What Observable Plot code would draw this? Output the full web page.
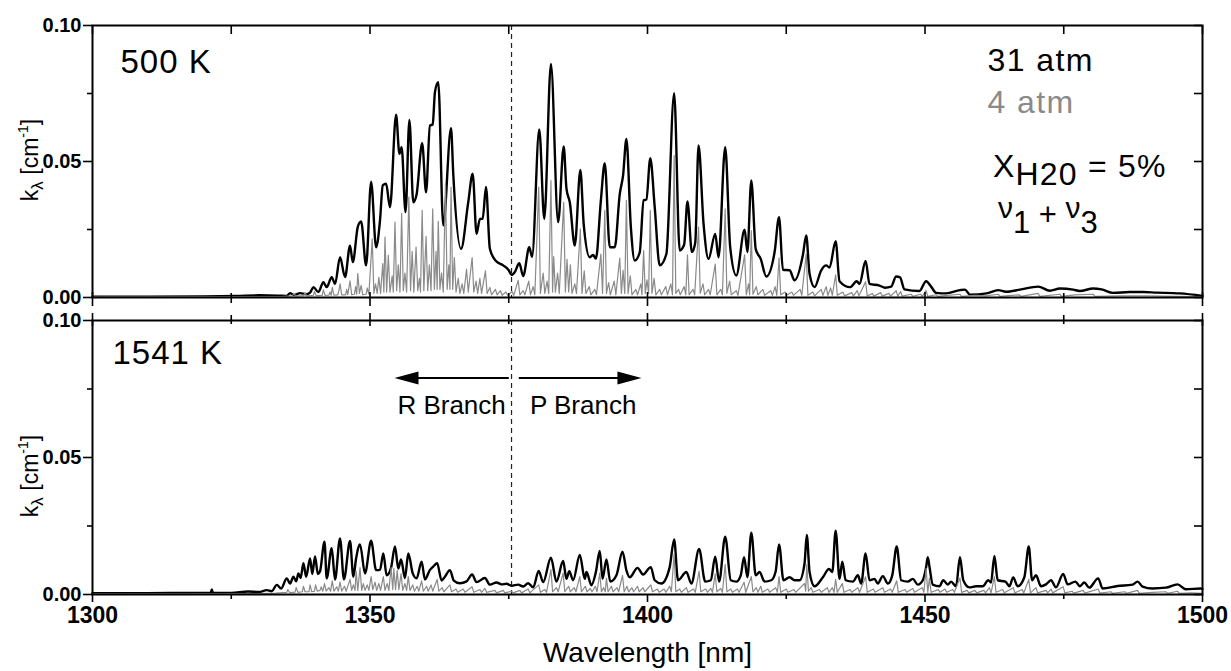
<!DOCTYPE html>
<html><head><meta charset="utf-8">
<script src="https://cdn.jsdelivr.net/npm/d3@7"></script>
<script src="https://cdn.jsdelivr.net/npm/@observablehq/plot@0.6"></script>
<style>
body{margin:0;background:#fff;font-family:"Liberation Sans",Arial,sans-serif;}
#chart{position:relative;width:1231px;height:671px;overflow:hidden;}
#chart svg{position:absolute;left:0;overflow:visible;}
</style></head><body><div id="chart"></div>
<script>
// ---------------- DATA ----------------
const xMajor = [1300, 1350, 1400, 1450, 1500];
const xMinor = [1325, 1375, 1425, 1475];
const yMajor = [0, 0.05, 0.10];
const yMinor = [0.025, 0.075];
const branchCenter = [1375.5];
const panelTemps = ["500 K", "1541 K"];
const pressures = ["31 atm", "4 atm"];
const branchLabels = [{label: "R Branch", nm: 1364.7}, {label: "P Branch", nm: 1388.4}];
const branchArrows = [{from: 1375.1, to: 1354.5}, {from: 1376.9, to: 1399.0}];

// 500 K, 31 atm (black)
const k500_31 = [[1300,0.0003],[1310,0.0003],[1320,0.0004],[1326,0.0006],[1330,0.0008],[1333.5,0.0007],[1335,0.0006],[1335.6,0.0016],[1336.3,0.0009],[1337.4,0.0016],[1338.5,0.0012],[1339.2,0.0018],[1339.8,0.0038],[1340.7,0.002],[1341.6,0.0056],[1342.2,0.0038],[1343.1,0.0075],[1343.7,0.005],[1344.6,0.0148],[1345.5,0.0075],[1346.4,0.019],[1346.9,0.013],[1347.8,0.026],[1348.4,0.028],[1349.3,0.0118],[1350.2,0.0426],[1351.1,0.0185],[1351.8,0.0283],[1352.3,0.0412],[1352.9,0.0418],[1353.6,0.0332],[1354.7,0.0672],[1355.3,0.0528],[1355.7,0.0553],[1356.4,0.0314],[1357.1,0.0653],[1357.8,0.035],[1358.4,0.038],[1359.4,0.0567],[1360.1,0.0387],[1360.8,0.0632],[1361.3,0.0636],[1361.7,0.0755],[1362.3,0.0792],[1363.2,0.0265],[1364.6,0.0622],[1365.0,0.0455],[1366.4,0.0179],[1367.7,0.035],[1368.5,0.0455],[1369.2,0.0234],[1369.8,0.0289],[1370.3,0.0289],[1370.9,0.0406],[1371.6,0.0179],[1372.7,0.0134],[1374.0,0.0118],[1375.0,0.0100],[1375.5,0.0083],[1376.1,0.0094],[1376.9,0.0126],[1377.6,0.0079],[1378.7,0.0185],[1379.2,0.015],[1380.5,0.0618],[1381.4,0.0289],[1382.6,0.0859],[1383.9,0.0277],[1384.9,0.0555],[1385.4,0.040],[1386.0,0.035],[1386.9,0.0191],[1387.9,0.0469],[1388.5,0.0271],[1389.6,0.0148],[1390.2,0.0156],[1390.7,0.0143],[1391.6,0.0357],[1392.3,0.0494],[1393.2,0.0185],[1394.1,0.0185],[1395.0,0.038],[1395.6,0.0449],[1396.2,0.0583],[1397.0,0.0259],[1397.7,0.0136],[1398.6,0.0166],[1399.3,0.0357],[1399.8,0.036],[1400.5,0.0512],[1401.3,0.0332],[1402.2,0.0118],[1403.4,0.016],[1404.8,0.0751],[1405.8,0.0173],[1406.6,0.0194],[1407.2,0.0353],[1408.0,0.0167],[1408.6,0.0201],[1409.2,0.0559],[1410.1,0.0271],[1411.0,0.0142],[1412.2,0.0234],[1412.8,0.0148],[1414.0,0.0553],[1414.9,0.0185],[1416.0,0.0081],[1417.5,0.0249],[1418.0,0.0167],[1418.7,0.043],[1419.5,0.0178],[1420.4,0.0142],[1421.4,0.0077],[1422.9,0.0167],[1423.7,0.0295],[1424.4,0.0102],[1425.6,0.0100],[1426.5,0.0063],[1428.0,0.0156],[1428.6,0.0228],[1429.2,0.0087],[1430.1,0.0038],[1431.3,0.0100],[1432.2,0.0118],[1432.8,0.0110],[1433.9,0.0207],[1434.6,0.0060],[1436.5,0.0038],[1437.7,0.0060],[1438.2,0.0050],[1439.3,0.0134],[1440.0,0.0050],[1441.8,0.0044],[1442.8,0.0036],[1443.9,0.0040],[1444.8,0.0077],[1445.5,0.0074],[1446.3,0.0030],[1449.0,0.0024],[1450.2,0.0060],[1451.1,0.0040],[1452.0,0.0017],[1453.8,0.0015],[1456.3,0.0027],[1457.2,0.0029],[1458.1,0.0010],[1461.1,0.0015],[1463.2,0.0027],[1464.6,0.0021],[1467.1,0.0029],[1470.4,0.0040],[1472.5,0.0025],[1474.3,0.0033],[1476.7,0.0029],[1477.9,0.0024],[1480.3,0.0033],[1481.8,0.0030],[1483.9,0.0017],[1486.9,0.0020],[1489.3,0.0020],[1491.7,0.0018],[1495.9,0.0015],[1500,0.0006]];

// 500 K, 4 atm (grey)
const k500_4 = [[1300,0.0002],[1334,0.0003],[1336,0.0006],[1336.3,0.0015],[1336.6,0.0005],[1338,0.0007],[1338.3,0.0018],[1338.6,0.0006],[1339.8,0.0008],[1340.0,0.0022],[1340.3,0.0007],[1341.4,0.0008],[1341.6,0.0028],[1341.9,0.0008],[1342.6,0.0009],[1342.8,0.002],[1343.0,0.0008],[1343.2,0.0037],[1343.5,0.0009],[1344.2,0.001],[1344.4,0.0025],[1344.6,0.005],[1344.9,0.001],[1345.6,0.001],[1345.8,0.003],[1346.0,0.001],[1346.4,0.0061],[1346.7,0.001],[1347.2,0.0012],[1347.4,0.004],[1347.6,0.0012],[1347.8,0.0088],[1348.1,0.0015],[1348.4,0.0045],[1348.7,0.001],[1349.3,0.0012],[1349.5,0.0035],[1349.8,0.0012],[1350.4,0.0216],[1350.7,0.0015],[1351.0,0.005],[1351.3,0.0015],[1351.6,0.0074],[1351.9,0.0015],[1352.3,0.0125],[1352.5,0.002],[1352.7,0.0222],[1353.0,0.002],[1353.3,0.0155],[1353.6,0.002],[1354.0,0.008],[1354.2,0.002],[1354.5,0.0277],[1354.8,0.0025],[1355.1,0.012],[1355.4,0.002],[1355.7,0.0308],[1356.0,0.0025],[1356.3,0.009],[1356.6,0.002],[1357.0,0.0369],[1357.3,0.0025],[1357.6,0.017],[1357.9,0.002],[1358.3,0.0185],[1358.6,0.0025],[1358.9,0.007],[1359.1,0.002],[1359.4,0.032],[1359.7,0.0025],[1360.1,0.0225],[1360.4,0.0025],[1360.7,0.012],[1361.0,0.0025],[1361.3,0.0326],[1361.6,0.003],[1361.9,0.017],[1362.1,0.003],[1362.3,0.028],[1362.6,0.003],[1362.9,0.009],[1363.2,0.002],[1363.6,0.0418],[1363.9,0.003],[1364.2,0.012],[1364.4,0.003],[1364.6,0.0405],[1364.9,0.003],[1365.2,0.0147],[1365.5,0.002],[1365.9,0.007],[1366.2,0.0015],[1366.6,0.005],[1366.9,0.0015],[1367.4,0.0104],[1367.7,0.002],[1368.4,0.0147],[1368.7,0.002],[1369.1,0.006],[1369.4,0.0015],[1369.8,0.007],[1370.1,0.0015],[1370.8,0.0098],[1371.1,0.0015],[1371.6,0.0037],[1371.9,0.001],[1372.6,0.003],[1372.9,0.001],[1373.5,0.0025],[1373.8,0.0008],[1374.5,0.002],[1374.8,0.0008],[1375.6,0.0022],[1375.9,0.0008],[1376.7,0.0063],[1377.0,0.001],[1377.6,0.0025],[1377.9,0.001],[1378.6,0.006],[1378.9,0.001],[1379.4,0.004],[1379.7,0.001],[1380.4,0.0406],[1380.7,0.0015],[1381.2,0.009],[1381.5,0.0015],[1381.9,0.006],[1382.2,0.0015],[1382.6,0.043],[1382.9,0.002],[1383.1,0.015],[1383.4,0.002],[1383.8,0.009],[1384.1,0.0015],[1384.9,0.035],[1385.2,0.002],[1385.5,0.014],[1385.8,0.002],[1386.1,0.012],[1386.4,0.0015],[1386.9,0.005],[1387.2,0.0015],[1387.9,0.0252],[1388.2,0.0015],[1388.6,0.0098],[1388.9,0.0015],[1389.5,0.004],[1389.8,0.001],[1390.5,0.003],[1390.8,0.001],[1391.6,0.016],[1391.9,0.0015],[1392.3,0.032],[1392.6,0.0015],[1393.0,0.0055],[1393.3,0.001],[1394.0,0.006],[1394.3,0.001],[1395.0,0.0145],[1395.3,0.0015],[1395.6,0.01],[1395.9,0.0015],[1396.2,0.0357],[1396.5,0.0015],[1396.9,0.008],[1397.2,0.001],[1397.9,0.003],[1398.2,0.001],[1398.8,0.005],[1399.0,0.001],[1399.3,0.0172],[1399.6,0.0015],[1399.9,0.0065],[1400.2,0.0015],[1400.5,0.032],[1400.8,0.0015],[1401.2,0.007],[1401.5,0.001],[1402.2,0.003],[1402.5,0.001],[1403.3,0.004],[1403.6,0.001],[1404.2,0.005],[1404.5,0.001],[1404.8,0.0522],[1405.1,0.0015],[1405.6,0.003],[1405.9,0.001],[1406.6,0.004],[1406.9,0.001],[1407.2,0.0157],[1407.5,0.001],[1408.2,0.003],[1408.5,0.001],[1409.2,0.0259],[1409.5,0.0015],[1410.0,0.005],[1410.3,0.001],[1411.0,0.003],[1411.3,0.001],[1412.2,0.0123],[1412.5,0.001],[1413.2,0.003],[1413.5,0.001],[1414.0,0.0326],[1414.3,0.0015],[1414.8,0.006],[1415.1,0.001],[1416.0,0.0025],[1416.3,0.0008],[1417.5,0.0157],[1417.8,0.001],[1418.2,0.005],[1418.4,0.001],[1418.7,0.0246],[1419.0,0.0012],[1419.6,0.004],[1419.9,0.001],[1420.8,0.003],[1421.1,0.0008],[1422.2,0.0025],[1422.5,0.0008],[1423.0,0.004],[1423.3,0.0008],[1423.7,0.0145],[1424.0,0.001],[1424.8,0.002],[1425.1,0.0008],[1426.0,0.002],[1426.3,0.0008],[1427.5,0.003],[1427.8,0.0008],[1428.6,0.016],[1428.9,0.0008],[1429.8,0.002],[1430.1,0.0006],[1431.3,0.003],[1431.6,0.0008],[1432.2,0.004],[1432.5,0.0008],[1433.0,0.0035],[1433.3,0.0008],[1433.9,0.0083],[1434.2,0.0008],[1435.2,0.002],[1435.5,0.0006],[1436.8,0.0018],[1437.1,0.0006],[1437.8,0.0025],[1438.1,0.0006],[1439.3,0.0058],[1439.6,0.0006],[1440.5,0.0015],[1440.8,0.0005],[1442.0,0.0018],[1442.3,0.0005],[1443.5,0.0015],[1443.8,0.0005],[1444.8,0.0025],[1445.1,0.0005],[1445.6,0.0022],[1445.9,0.0005],[1447.5,0.0012],[1447.8,0.0004],[1449.2,0.0012],[1449.5,0.0004],[1450.2,0.0025],[1450.5,0.0004],[1452,0.001],[1452.3,0.0004],[1454,0.0008],[1456.3,0.0012],[1456.6,0.0004],[1459,0.0008],[1461,0.0006],[1463.2,0.0012],[1463.5,0.0004],[1467,0.001],[1467.3,0.0004],[1470.4,0.0015],[1470.7,0.0004],[1474.3,0.0012],[1474.6,0.0004],[1477,0.001],[1480.3,0.0012],[1480.6,0.0004],[1485,0.0006],[1490,0.0006],[1495,0.0004],[1500,0.0003]];

// 1541 K, 31 atm (black)
const k1541_31 = [[1300,0.0005],[1310,0.0005],[1318,0.0006],[1321.3,0.0006],[1321.5,0.0018],[1321.7,0.0006],[1325,0.0006],[1328,0.0011],[1330,0.0009],[1331.4,0.0016],[1332.3,0.0012],[1333.2,0.0035],[1334,0.0022],[1335.0,0.0059],[1335.6,0.004],[1336.2,0.0065],[1336.7,0.0048],[1337.1,0.0077],[1337.5,0.006],[1338.0,0.0114],[1338.5,0.0065],[1339.2,0.0132],[1339.6,0.0075],[1340.1,0.0139],[1340.6,0.0075],[1341.0,0.0085],[1341.8,0.0193],[1342.2,0.0059],[1343.1,0.0169],[1343.7,0.0055],[1344.6,0.0205],[1345.3,0.0055],[1346.4,0.0195],[1347.0,0.0065],[1347.5,0.0132],[1348.2,0.0183],[1349.1,0.0077],[1350.2,0.0196],[1351.1,0.0089],[1351.8,0.009],[1352.4,0.015],[1353.0,0.007],[1353.8,0.0098],[1354.5,0.0175],[1355.1,0.0095],[1355.6,0.0128],[1356.3,0.006],[1356.9,0.015],[1357.7,0.0077],[1358.4,0.0059],[1359.3,0.012],[1359.9,0.0055],[1360.8,0.009],[1361.4,0.0102],[1362.1,0.0114],[1362.9,0.0051],[1363.5,0.0065],[1364.4,0.0089],[1365.1,0.0051],[1366.2,0.0041],[1367.4,0.0048],[1368.4,0.0073],[1369.2,0.0045],[1370.7,0.006],[1371.6,0.0036],[1372.8,0.0044],[1373.7,0.0037],[1374.6,0.0039],[1375.5,0.0032],[1376.7,0.0036],[1377.6,0.0029],[1378.5,0.0041],[1379.4,0.0026],[1380.4,0.0086],[1381.2,0.0045],[1382.6,0.0134],[1383.6,0.0047],[1384.8,0.0122],[1385.4,0.0057],[1385.9,0.0085],[1386.6,0.0052],[1387.8,0.0144],[1388.7,0.0057],[1389.0,0.0082],[1389.9,0.0034],[1390.7,0.0082],[1391.4,0.0159],[1391.9,0.0057],[1392.6,0.0128],[1393.3,0.0047],[1394.4,0.007],[1395.5,0.0156],[1396.2,0.0088],[1396.8,0.0063],[1398.2,0.0097],[1399.2,0.0073],[1400.6,0.01],[1401.3,0.0052],[1402.5,0.004],[1404.0,0.01],[1404.8,0.0201],[1405.5,0.0052],[1407.0,0.0082],[1407.9,0.004],[1409.3,0.0166],[1410.4,0.0047],[1411.4,0.0052],[1412.2,0.0138],[1412.9,0.0047],[1414.0,0.0211],[1415.0,0.0052],[1416.0,0.0047],[1416.8,0.007],[1417.4,0.0136],[1418.0,0.0063],[1418.7,0.0226],[1419.5,0.007],[1420.2,0.0082],[1421.1,0.0047],[1422.3,0.0052],[1423.1,0.0085],[1423.7,0.0183],[1424.5,0.0052],[1425.6,0.0063],[1426.5,0.0052],[1427.4,0.0052],[1428.3,0.0114],[1428.7,0.0217],[1429.2,0.0082],[1430.1,0.003],[1431.6,0.0063],[1432.7,0.0093],[1433.3,0.0082],[1433.9,0.0233],[1434.6,0.0057],[1435.1,0.012],[1435.7,0.0052],[1437.0,0.0047],[1437.9,0.007],[1438.5,0.004],[1439.3,0.015],[1440.0,0.0052],[1440.9,0.0057],[1441.5,0.004],[1442.4,0.0067],[1443.3,0.004],[1444.1,0.007],[1444.9,0.0175],[1445.7,0.0052],[1446.9,0.0047],[1447.8,0.0057],[1448.7,0.0036],[1449.6,0.0052],[1450.2,0.01],[1450.5,0.0136],[1450.8,0.0102],[1451.4,0.0036],[1452.6,0.003],[1453.3,0.0052],[1454.1,0.0036],[1454.7,0.0047],[1455.6,0.003],[1456.3,0.0136],[1456.9,0.0052],[1458.0,0.0026],[1459.2,0.003],[1460.4,0.003],[1461.4,0.0052],[1461.9,0.0044],[1462.5,0.0141],[1463.1,0.0052],[1464.5,0.0047],[1465.2,0.003],[1465.9,0.0062],[1466.7,0.003],[1467.9,0.0063],[1468.7,0.0175],[1469.3,0.0052],[1470.0,0.007],[1470.9,0.003],[1471.8,0.0037],[1472.7,0.0052],[1473.6,0.0026],[1474.9,0.0075],[1475.7,0.0037],[1477.1,0.0047],[1477.9,0.003],[1478.7,0.0044],[1479.6,0.0025],[1481.2,0.0059],[1482.0,0.0022],[1484.7,0.0031],[1487.4,0.0036],[1488.3,0.0047],[1489.2,0.0029],[1491.0,0.0022],[1493.4,0.0025],[1495.5,0.0037],[1497.0,0.0019],[1499.7,0.0022],[1500,0.002]];

// 1541 K, 4 atm (grey)
const k1541_4 = [[1300,0.0002],[1330,0.0003],[1333,0.0005],[1335,0.0008],[1335.2,0.0018],[1335.5,0.0007],[1336.5,0.0009],[1336.7,0.0025],[1337.0,0.0008],[1337.8,0.001],[1338.0,0.003],[1338.3,0.001],[1339.0,0.001],[1339.2,0.0035],[1339.5,0.001],[1340.0,0.0012],[1340.2,0.0035],[1340.5,0.0012],[1341.0,0.0015],[1341.2,0.0028],[1341.5,0.0012],[1341.8,0.004],[1342.1,0.0012],[1342.6,0.0025],[1342.9,0.0012],[1343.2,0.005],[1343.5,0.0012],[1344.0,0.0028],[1344.3,0.0012],[1344.6,0.0045],[1344.9,0.0012],[1345.4,0.003],[1345.7,0.0012],[1346.4,0.0055],[1346.7,0.0015],[1347.0,0.0035],[1347.3,0.0015],[1347.5,0.0085],[1347.8,0.0015],[1348.2,0.0098],[1348.5,0.0015],[1348.8,0.004],[1349.1,0.0015],[1349.5,0.0035],[1349.8,0.0015],[1350.2,0.0065],[1350.5,0.0018],[1350.9,0.0045],[1351.2,0.0015],[1351.6,0.004],[1351.9,0.0015],[1352.4,0.0065],[1352.7,0.0015],[1353.1,0.004],[1353.4,0.0015],[1353.8,0.0098],[1354.1,0.0018],[1354.3,0.0095],[1354.6,0.0018],[1354.9,0.0088],[1355.2,0.0018],[1355.6,0.0075],[1355.9,0.0015],[1356.3,0.004],[1356.6,0.0015],[1356.9,0.0065],[1357.2,0.0015],[1357.7,0.0035],[1358.0,0.0012],[1358.5,0.003],[1358.8,0.0012],[1359.3,0.005],[1359.6,0.0012],[1360.2,0.003],[1360.5,0.0012],[1361.0,0.0035],[1361.3,0.0012],[1362.1,0.0055],[1362.4,0.0012],[1363.0,0.0025],[1363.3,0.001],[1364.4,0.0035],[1364.7,0.001],[1365.5,0.002],[1365.8,0.0008],[1366.8,0.002],[1367.1,0.0008],[1368.4,0.0028],[1368.7,0.0008],[1369.8,0.0018],[1370.1,0.0008],[1370.7,0.0022],[1371.0,0.0008],[1372.5,0.0015],[1372.8,0.0006],[1374.0,0.0015],[1374.3,0.0006],[1375.5,0.0012],[1375.8,0.0006],[1377.0,0.0015],[1377.3,0.0006],[1378.5,0.002],[1378.8,0.0006],[1380.4,0.0035],[1380.7,0.0008],[1381.5,0.0018],[1381.8,0.0008],[1382.6,0.0091],[1382.9,0.001],[1383.6,0.0025],[1383.9,0.001],[1384.8,0.0078],[1385.1,0.001],[1385.8,0.003],[1386.1,0.001],[1386.8,0.0025],[1387.1,0.001],[1387.8,0.0065],[1388.1,0.001],[1388.8,0.003],[1389.1,0.001],[1389.7,0.0022],[1390.0,0.001],[1390.6,0.003],[1390.9,0.001],[1391.4,0.0078],[1391.7,0.001],[1392.1,0.0025],[1392.4,0.001],[1392.6,0.006],[1392.9,0.001],[1393.5,0.003],[1393.8,0.001],[1394.5,0.0025],[1394.8,0.001],[1395.5,0.007],[1395.8,0.001],[1396.3,0.003],[1396.6,0.001],[1397.2,0.0025],[1397.5,0.001],[1398.2,0.003],[1398.5,0.001],[1399.2,0.0025],[1399.5,0.001],[1400.6,0.0035],[1400.9,0.001],[1401.8,0.002],[1402.1,0.0008],[1403.0,0.002],[1403.3,0.0008],[1404.0,0.003],[1404.3,0.001],[1404.8,0.0148],[1405.1,0.001],[1405.8,0.002],[1406.1,0.0008],[1407.0,0.0025],[1407.3,0.0008],[1408.3,0.002],[1408.6,0.0008],[1409.3,0.0085],[1409.6,0.001],[1410.5,0.002],[1410.8,0.0008],[1411.4,0.0022],[1411.7,0.0008],[1412.2,0.0075],[1412.5,0.001],[1413.2,0.0022],[1413.5,0.0008],[1414.0,0.011],[1414.3,0.001],[1415.0,0.002],[1415.3,0.0008],[1416.2,0.002],[1416.5,0.0008],[1417.4,0.0045],[1417.7,0.0008],[1418.7,0.0065],[1419.0,0.001],[1419.6,0.0025],[1419.9,0.0008],[1420.4,0.003],[1420.7,0.0008],[1421.7,0.002],[1422.0,0.0008],[1423.1,0.0025],[1423.4,0.0008],[1423.7,0.0065],[1424.0,0.0008],[1425.0,0.002],[1425.3,0.0008],[1426.4,0.0018],[1426.7,0.0008],[1428.3,0.004],[1428.5,0.0012],[1428.7,0.011],[1429.0,0.0012],[1429.5,0.0025],[1429.8,0.0008],[1431.0,0.0018],[1431.3,0.0008],[1432.4,0.0025],[1432.7,0.0008],[1433.3,0.0025],[1433.6,0.0008],[1433.9,0.0055],[1434.2,0.0008],[1435.1,0.004],[1435.4,0.0008],[1436.5,0.0018],[1436.8,0.0008],[1437.9,0.0025],[1438.2,0.0008],[1439.3,0.0065],[1439.6,0.0008],[1440.7,0.002],[1441.0,0.0008],[1442.4,0.0025],[1442.7,0.0008],[1443.8,0.002],[1444.1,0.0008],[1444.9,0.005],[1445.2,0.0008],[1446.4,0.0018],[1446.7,0.0008],[1447.8,0.0022],[1448.1,0.0008],[1449.5,0.0025],[1449.8,0.0008],[1450.2,0.0095],[1450.5,0.0008],[1450.8,0.006],[1451.1,0.0008],[1452.4,0.0018],[1452.7,0.0008],[1453.6,0.002],[1453.9,0.0008],[1455.0,0.0018],[1455.3,0.0008],[1456.3,0.006],[1456.6,0.0008],[1457.6,0.0015],[1457.9,0.0006],[1459.0,0.0015],[1459.3,0.0006],[1460.6,0.0015],[1460.9,0.0006],[1461.6,0.0025],[1461.9,0.0006],[1462.5,0.0065],[1462.8,0.0008],[1464.0,0.0018],[1464.3,0.0006],[1465.9,0.0025],[1466.2,0.0006],[1467.5,0.0018],[1467.8,0.0006],[1468.7,0.0055],[1469.0,0.0006],[1470.0,0.0025],[1470.3,0.0006],[1471.8,0.0015],[1472.1,0.0006],[1472.7,0.002],[1473.0,0.0006],[1474.9,0.0028],[1475.2,0.0006],[1476.5,0.0012],[1476.8,0.0005],[1478.5,0.0015],[1478.8,0.0005],[1481.2,0.002],[1481.5,0.0005],[1483.5,0.001],[1483.8,0.0004],[1486,0.001],[1486.3,0.0004],[1488.3,0.0015],[1488.6,0.0004],[1491,0.0008],[1493.4,0.001],[1493.7,0.0004],[1495.5,0.0012],[1495.8,0.0004],[1498,0.0006],[1500,0.0004]];

// ---------------- LAYOUT ----------------
const FONT = '"Liberation Sans", Arial, Helvetica, sans-serif';
const W = 1231, ML = 92, MR = 29, PW = W - ML - MR;
const GREY = "#8a8a8a";
const H1 = 310, MT1 = 25, MB1 = 13, PH1 = H1 - MT1 - MB1;
const TOP2 = 310, H2 = 361, MT2 = 10, MB2 = 77, PH2 = H2 - MT2 - MB2;
const fmtY = d3.format(".2f");
const allX = [...xMajor, ...xMinor], allY = [...yMajor, ...yMinor];

function common(black, grey, PH) {
  return [
    Plot.ruleX(branchCenter, {x: d => d, stroke: "#222", strokeWidth: 1.2, strokeDasharray: "5,4"}),
    Plot.line(black, {x: d => d[0], y: d => d[1], stroke: "#000", strokeWidth: 2.4, curve: "monotone-x"}),
    Plot.line(grey, {x: d => d[0], y: d => d[1], stroke: GREY, strokeWidth: 1.2}),
    Plot.frame({stroke: "#000", strokeWidth: 2}),
    Plot.axisY({ticks: yMajor, tickSize: 9, tickPadding: 2, tickFormat: fmtY, fontSize: 20, fontWeight: "bold", label: null, strokeWidth: 1.6}),
    Plot.axisY({ticks: yMinor, tickSize: 5, tickFormat: () => "", label: null, strokeWidth: 1.6}),
    Plot.tickY(allY, {y: d => d, insetLeft: PW - 8, strokeWidth: 1.6})
  ];
}

const topPlot = Plot.plot({
  width: W, height: H1, marginLeft: ML, marginRight: MR, marginTop: MT1, marginBottom: MB1,
  style: {fontFamily: FONT, background: "transparent", overflow: "visible"},
  x: {domain: [1300, 1500], axis: null},
  y: {domain: [0, 0.1]},
  marks: [
    ...common(k500_31, k500_4, PH1),
    Plot.tickX(allX, {x: d => d, insetBottom: PH1 - 9, strokeWidth: 1.6}),
    Plot.tickX(xMajor, {x: d => d, insetTop: PH1 - 5, insetBottom: -9, strokeWidth: 1.6}),
    Plot.tickX(xMinor, {x: d => d, insetTop: PH1 - 4, insetBottom: -6, strokeWidth: 1.6}),
    Plot.text([panelTemps[0]], {text: d => d, frameAnchor: "top-left", textAnchor: "start", lineAnchor: "bottom", dx: 28, dy: 47, fontSize: 33, fill: "#000"}),
    Plot.text([pressures[0]], {text: d => d, frameAnchor: "top-left", textAnchor: "start", lineAnchor: "bottom", dx: 895, dy: 45, fontSize: 32, fill: "#000"}),
    Plot.text([pressures[1]], {text: d => d, frameAnchor: "top-left", textAnchor: "start", lineAnchor: "bottom", dx: 895, dy: 87, fontSize: 32, fill: GREY})
  ]
});

const botPlot = Plot.plot({
  width: W, height: H2, marginLeft: ML, marginRight: MR, marginTop: MT2, marginBottom: MB2,
  style: {fontFamily: FONT, background: "transparent", overflow: "visible"},
  x: {domain: [1300, 1500]},
  y: {domain: [0, 0.1]},
  marks: [
    ...common(k1541_31, k1541_4, PH2),
    Plot.tickX(xMajor, {x: d => d, insetBottom: PH2 - 6, insetTop: -7, strokeWidth: 1.6}),
    Plot.tickX(xMinor, {x: d => d, insetBottom: PH2 - 4, insetTop: -5, strokeWidth: 1.6}),
    Plot.axisX({ticks: xMajor, tickSize: 8, tickPadding: 4, tickFormat: d3.format("d"), fontSize: 23, fontWeight: "bold", label: null, strokeWidth: 1.6}),
    Plot.axisX({ticks: xMinor, tickSize: 5, tickFormat: () => "", label: null, strokeWidth: 1.6}),
    Plot.text(["Wavelength [nm]"], {text: d => d, frameAnchor: "bottom", lineAnchor: "bottom", dy: 67, fontSize: 28, fill: "#000"}),
    Plot.text([panelTemps[1]], {text: d => d, frameAnchor: "top-left", textAnchor: "start", lineAnchor: "bottom", dx: 20, dy: 43, fontSize: 33, fill: "#000"}),
    Plot.text(branchLabels, {x: "nm", text: "label", frameAnchor: "top", lineAnchor: "bottom", dy: 93, fontSize: 26, fill: "#000"})
  ]
});

const chart = document.getElementById("chart");
topPlot.style.top = "0px";
botPlot.style.top = TOP2 + "px";
chart.appendChild(topPlot);
chart.appendChild(botPlot);

// slightly wider lettering for the large panel labels, as in the reference
for (const svg of [topPlot, botPlot]) {
  d3.select(svg).selectAll("text")
    .filter(function () { return [...pressures, ...panelTemps].includes(this.textContent); })
    .attr("letter-spacing", function () { return pressures.includes(this.textContent) ? 1.4 : 1; });
}

// ---------- extra annotations (sub/superscripts, arrows) ----------
function yTitle(svg, cy) {
  const t = d3.select(svg).append("text")
    .attr("transform", `translate(38,${cy}) rotate(-90)`)
    .attr("text-anchor", "middle").attr("font-family", FONT).attr("font-size", 23).attr("fill", "#000")
    .style("white-space", "pre");
  t.append("tspan").text("k");
  t.append("tspan").attr("font-size", 17).attr("dy", 5).text("λ");
  t.append("tspan").attr("dy", -5).text(" [cm");
  t.append("tspan").attr("font-size", 14).attr("dy", -10).text("-1");
  t.append("tspan").attr("dy", 10).text("]");
}
yTitle(topPlot, 160);
yTitle(botPlot, 476 - TOP2);

// X_H20 = 5%  and  nu1 + nu3
{
  const t = d3.select(topPlot).append("text").attr("x", 993).attr("y", 177).attr("text-anchor", "start")
    .attr("font-family", FONT).attr("font-size", 32).attr("letter-spacing", 1.2).attr("fill", "#000").style("white-space", "pre");
  t.append("tspan").text("X");
  t.append("tspan").attr("dy", 8).text("H20");
  t.append("tspan").attr("dy", -8).text(" = 5%");
  const n = d3.select(topPlot).append("text").attr("x", 998).attr("y", 233).attr("text-anchor", "start")
    .attr("font-family", FONT).attr("font-size", 31).attr("fill", "#000").style("white-space", "pre");
  n.append("tspan").attr("dy", -15).attr("font-size", 30).text("ν");
  n.append("tspan").attr("dy", 15).text("1");
  n.append("tspan").attr("dy", -8).text(" + ");
  n.append("tspan").attr("dy", -7).attr("font-size", 30).text("ν");
  n.append("tspan").attr("dy", 15).text("3");
}

// branch arrows (filled heads)
{
  const sx = botPlot.scale("x");
  const yA = MT2 + 58;
  const g = d3.select(botPlot).append("g");
  for (const a of branchArrows) {
    const x1 = sx.apply(a.from), x2 = sx.apply(a.to);
    const dir = Math.sign(x2 - x1), L = 24, hw = 6.5;
    g.append("line").attr("x1", x1).attr("x2", x2 - dir * L * 0.8).attr("y1", yA).attr("y2", yA)
      .attr("stroke", "#000").attr("stroke-width", 2);
    g.append("path").attr("d", `M${x2},${yA}L${x2 - dir * L},${yA - hw}L${x2 - dir * L},${yA + hw}Z`).attr("fill", "#000");
  }
}
</script>
</body></html>
